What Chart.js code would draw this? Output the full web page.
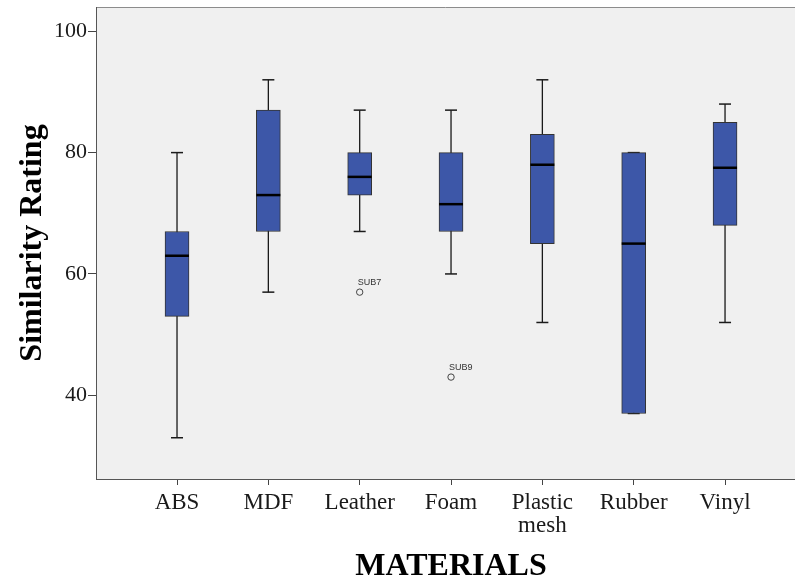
<!DOCTYPE html>
<html>
<head>
<meta charset="utf-8">
<script src="https://cdn.jsdelivr.net/npm/chart.js@4"></script>
<style>
  html, body { margin: 0; padding: 0; background: #ffffff; }
  canvas { display: block; }
</style>
</head>
<body>
<canvas id="c" width="795" height="582"></canvas>
<script>
// Similarity ratings per material: five-number summaries and outliers
const categories     = ['ABS', 'MDF', 'Leather', 'Foam', ['Plastic', 'mesh'], 'Rubber', 'Vinyl'];
const whiskerHigh    = [80, 92, 87, 87, 92, 80, 88];
const upperQuartile  = [67, 87, 80, 80, 83, 80, 85];
const medians        = [63, 73, 76, 71.5, 78, 65, 77.5];
const lowerQuartile  = [53, 67, 73, 67, 65, 37, 68];
const whiskerLow     = [33, 57, 67, 60, 52, 37, 52];
const outlierCategory = [3, 4];          // 1-based category position
const outlierValues   = [57, 43];
const outlierLabels   = ['SUB7', 'SUB9'];
const yTickValues     = [40, 60, 80, 100];
const xTitle = 'MATERIALS';
const yTitle = 'Similarity Rating';

const positions = categories.map((c, i) => i + 1);

const whiskerLines = [];
positions.forEach((p, i) => {
  whiskerLines.push({ x: p, y: whiskerLow[i] }, { x: p, y: whiskerHigh[i] }, { x: p, y: null });
});
const capPoints = [];
positions.forEach((p, i) => {
  capPoints.push({ x: p, y: whiskerLow[i] }, { x: p, y: whiskerHigh[i] });
});
const boxes = positions.map((p, i) => ({ x: p, y: [lowerQuartile[i], upperQuartile[i]] }));
const medianPoints = positions.map((p, i) => ({ x: p, y: medians[i] }));
const outlierPoints = outlierCategory.map((p, i) => ({ x: p, y: outlierValues[i] }));

const SERIF = "'Liberation Serif', 'Times New Roman', serif";

// the axes reserve no extra room for overhanging tick labels
function noLabelOverhang(scale) {
  scale.paddingTop = 0;
  scale.paddingBottom = 0;
  scale.paddingLeft = 0;
  scale.paddingRight = 0;
}

// grey plot background and the thin frame line along its top
const plotFrame = {
  id: 'plotFrame',
  beforeDraw(chart) {
    const { ctx, chartArea: a } = chart;
    ctx.save();
    ctx.fillStyle = '#f0f0f0';
    ctx.fillRect(a.left, a.top, a.right - a.left, a.bottom - a.top);
    ctx.strokeStyle = '#8c8c8c';
    ctx.lineWidth = 1;
    ctx.beginPath();
    ctx.moveTo(a.left, a.top + 0.5);
    ctx.lineTo(a.right, a.top + 0.5);
    ctx.stroke();
    ctx.restore();
  }
};

// horizontal axis title, centred on the middle of the category range
const xAxisTitle = {
  id: 'xAxisTitle',
  afterDraw(chart) {
    const xs = chart.scales.x;
    const mid = (positions[0] + positions[positions.length - 1]) / 2;
    const { ctx } = chart;
    ctx.save();
    ctx.font = 'bold 32px ' + SERIF;
    ctx.fillStyle = '#000000';
    ctx.textAlign = 'center';
    ctx.textBaseline = 'alphabetic';
    ctx.fillText(xTitle, xs.getPixelForValue(mid), chart.height - 7);
    ctx.restore();
  }
};

// case labels written just above each outlier circle
const outlierTags = {
  id: 'outlierTags',
  afterDatasetsDraw(chart) {
    const idx = chart.data.datasets.findIndex(d => d.label === 'outliers');
    const meta = chart.getDatasetMeta(idx);
    const { ctx } = chart;
    ctx.save();
    ctx.font = "9px 'Liberation Sans', Arial, sans-serif";
    ctx.fillStyle = '#333333';
    ctx.textAlign = 'left';
    ctx.textBaseline = 'alphabetic';
    meta.data.forEach((pt, i) => {
      ctx.fillText(outlierLabels[i], pt.x - 2, pt.y - 7);
    });
    ctx.restore();
  }
};

new Chart(document.getElementById('c'), {
  type: 'bar',
  data: {
    datasets: [
      {
        type: 'line', label: 'whiskers', data: whiskerLines,
        borderColor: '#1a1a1a', borderWidth: 1.3, pointRadius: 0,
        spanGaps: false, order: 5
      },
      {
        type: 'scatter', label: 'caps', data: capPoints,
        pointStyle: 'line', pointRadius: 6, borderColor: '#1a1a1a',
        borderWidth: 1.5, order: 4
      },
      {
        type: 'bar', label: 'boxes', data: boxes,
        backgroundColor: '#3d57a8', borderColor: '#333333', borderWidth: 1,
        borderSkipped: false, barThickness: 24, order: 3
      },
      {
        type: 'scatter', label: 'medians', data: medianPoints,
        pointStyle: 'line', pointRadius: 12, borderColor: '#000000',
        borderWidth: 2.5, order: 2
      },
      {
        type: 'scatter', label: 'outliers', data: outlierPoints,
        pointStyle: 'circle', pointRadius: 3.2, borderColor: '#444444',
        backgroundColor: 'rgba(0,0,0,0)', borderWidth: 1, order: 1
      }
    ]
  },
  options: {
    responsive: false,
    devicePixelRatio: 1,
    animation: false,
    layout: { autoPadding: false, padding: { left: 0, right: 0, top: 7, bottom: 0 } },
    plugins: { legend: { display: false }, tooltip: { enabled: false } },
    scales: {
      x: {
        type: 'linear',
        min: 0.113, max: 7.766,
        offset: false,
        grid: { drawOnChartArea: false, drawTicks: true, tickLength: 6, color: '#444444', offset: false },
        border: { display: true, color: '#555555', width: 1 },
        afterBuildTicks(scale) { scale.ticks = positions.map(v => ({ value: v })); },
        afterFit(scale) { scale.height = 103; noLabelOverhang(scale); },
        ticks: {
          autoSkip: false, maxRotation: 0, padding: 6,
          color: '#1a1a1a',
          font: { family: SERIF, size: 23, lineHeight: 1.0 },
          callback: (v) => categories[Math.round(v) - 1]
        },
        title: { display: false }
      },
      y: {
        type: 'linear',
        min: 26.2, max: 104,
        grid: { drawOnChartArea: false, drawTicks: true, tickLength: 8, color: '#444444' },
        border: { display: true, color: '#555555', width: 1 },
        afterBuildTicks(scale) { scale.ticks = yTickValues.map(v => ({ value: v })); },
        afterFit(scale) { scale.width = 96; noLabelOverhang(scale); },
        ticks: {
          padding: 1, color: '#1a1a1a',
          font: { family: SERIF, size: 22 },
          callback: (v) => String(v)
        },
        title: {
          display: true, text: yTitle, color: '#000000',
          font: { family: SERIF, size: 32, weight: 'bold', lineHeight: 1.2 },
          padding: { top: 14, bottom: 0 }
        }
      }
    }
  },
  plugins: [plotFrame, outlierTags, xAxisTitle]
});
</script>
</body>
</html>
